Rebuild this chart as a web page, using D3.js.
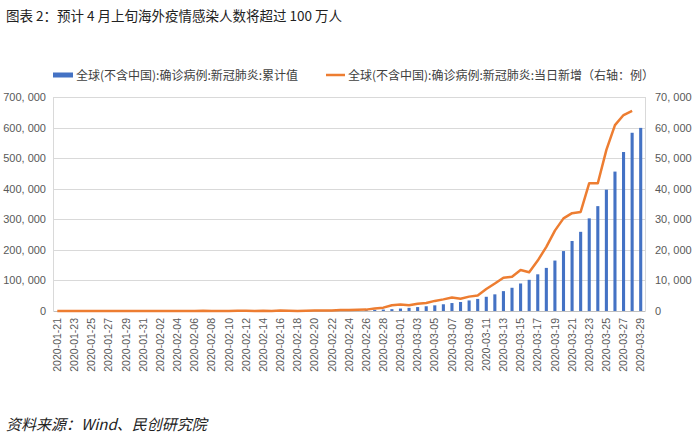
<!DOCTYPE html>
<html>
  <head>
    <meta charset="utf-8">
    <title>海外疫情感染人数</title>
    <script src="https://cdn.jsdelivr.net/npm/d3@7"></script>
    <style>
      body { margin: 0; background: #fff; }
      text { font-family: "Liberation Sans", Arial, "Noto Sans CJK SC", sans-serif; }
      .cjk { font-family: "Noto Sans CJK SC", sans-serif; }
    </style>
  </head>
  <body>

    <svg class="chart" width="700" height="436"></svg>

    <script>

      // categories: 2020-01-21 .. 2020-03-29, one per day
      var dates = d3.utcDay.range(new Date(Date.UTC(2020, 0, 21)), new Date(Date.UTC(2020, 2, 30)))
        .map(d3.utcFormat("%Y-%m-%d"));

      // cumulative confirmed cases (left axis)
      var cumulative = [
        5, 8, 11, 19, 36, 49, 56, 68, 83, 98, 132,
        146, 153, 159, 191, 216, 225, 270, 288, 310, 320,
        395, 441, 447, 505, 526, 683, 794, 804, 924, 1073,
        1200, 1402, 1769, 2069, 2459, 2918, 3664, 4700, 6000,
        8000, 10300, 12800, 15500, 18500, 22000, 26000, 29500, 34500, 39500,
        46500, 54500, 65000, 76000, 90000, 102000, 120000, 141000, 165000, 196000,
        229000, 259000, 303000, 343000, 397000, 456000, 520000, 583000, 599000
      ];

      // daily new cases (right axis), no value yet for 03-29
      var daily = [
        4, 3, 3, 8, 17, 13, 7, 12, 15, 15, 34,
        14, 7, 6, 32, 25, 9, 45, 18, 22, 10,
        75, 46, 6, 58, 21, 157, 111, 10, 120, 149,
        127, 202, 367, 300, 390, 450, 800, 1100, 1900,
        2100, 1900, 2400, 2600, 3300, 3800, 4400, 4000, 4700, 5100,
        7200, 9000, 10900, 11200, 13400, 12700, 16500, 21000, 26300, 30300,
        32000, 32400, 41800, 41800, 52700, 60800, 64100, 65500, null
      ];

      var leftTicks = [0, 100000, 200000, 300000, 400000, 500000, 600000, 700000];
      var rightTicks = [0, 10000, 20000, 30000, 40000, 50000, 60000, 70000];

      var title = "图表 2：预计 4 月上旬海外疫情感染人数将超过 100 万人";
      var barName = "全球(不含中国):确诊病例:新冠肺炎:累计值";
      var lineName = "全球(不含中国):确诊病例:新冠肺炎:当日新增（右轴：例）";
      var source = "资料来源：Wind、民创研究院";

      var blue = "#4472C4", orange = "#ED7D31", grid = "#D9D9D9", axisText = "#595959";
      var plotL = 53, plotR = 645, plotT = 97, plotB = 311;

      var x = d3.scaleBand().domain(dates).range([plotL, plotR]).paddingInner(0.64).paddingOuter(0.32);
      var yL = d3.scaleLinear().domain([0, 700000]).range([plotB, plotT]);
      var yR = d3.scaleLinear().domain([0, 70000]).range([plotB, plotT]);
      var fmt = function(v) { return d3.format(",")(v).replace(/,/g, ", "); };

      var svg = d3.select("svg.chart");

      svg.append("text").attr("class", "cjk")
        .attr("x", 6).attr("y", 21)
        .attr("font-size", 13.5).attr("fill", "#222")
        .text(title);

      // legend
      var lg = svg.append("g").attr("class", "legend");
      lg.append("rect").attr("x", 53).attr("y", 72.5).attr("width", 20).attr("height", 5).attr("fill", blue);
      lg.append("text").attr("class", "cjk").attr("x", 76).attr("y", 79.5)
        .attr("font-size", 12).attr("fill", "#404040").text(barName);
      lg.append("line").attr("x1", 326).attr("x2", 345).attr("y1", 75).attr("y2", 75)
        .attr("stroke", orange).attr("stroke-width", 2.5);
      lg.append("text").attr("class", "cjk").attr("x", 348).attr("y", 79.5)
        .attr("font-size", 12).attr("fill", "#404040").text(lineName);

      // gridlines and plot side borders
      svg.append("g").selectAll("line")
        .data(leftTicks.slice(1))
        .enter().append("line")
          .attr("x1", plotL).attr("x2", plotR)
          .attr("y1", function(d) { return Math.round(yL(d)) + 0.5; })
          .attr("y2", function(d) { return Math.round(yL(d)) + 0.5; })
          .attr("stroke", grid).attr("stroke-width", 1);
      svg.append("g").selectAll("line")
        .data([plotL, plotR])
        .enter().append("line")
          .attr("x1", function(d) { return d + 0.5; }).attr("x2", function(d) { return d + 0.5; })
          .attr("y1", plotT).attr("y2", plotB)
          .attr("stroke", grid).attr("stroke-width", 1);

      // left axis
      var axL = svg.append("g")
        .attr("transform", "translate(" + plotL + ",0)")
        .call(d3.axisLeft(yL).tickValues(leftTicks).tickSize(0).tickPadding(7).tickFormat(fmt));
      axL.select(".domain").remove();
      axL.selectAll("text").attr("font-size", 11).attr("fill", axisText)
        .attr("font-family", "'Liberation Sans', Arial, sans-serif");

      // right axis
      var axR = svg.append("g")
        .attr("transform", "translate(" + plotR + ",0)")
        .call(d3.axisRight(yR).tickValues(rightTicks).tickSize(0).tickPadding(10).tickFormat(fmt));
      axR.select(".domain").remove();
      axR.selectAll("text").attr("font-size", 11).attr("fill", axisText)
        .attr("font-family", "'Liberation Sans', Arial, sans-serif");

      // bottom axis, every other date
      var axB = svg.append("g")
        .attr("transform", "translate(0," + plotB + ")")
        .call(d3.axisBottom(x).tickValues(dates.filter(function(d, i) { return i % 2 === 0; }))
          .tickSize(0).tickPadding(0));
      axB.select(".domain").attr("stroke", "#BFBFBF");
      axB.selectAll("text")
        .attr("font-size", 10.5).attr("fill", axisText)
        .attr("font-family", "'Liberation Sans', Arial, sans-serif")
        .attr("transform", "rotate(-90)")
        .attr("text-anchor", "end")
        .attr("x", -7).attr("y", 0).attr("dy", "0.35em");

      // bars
      svg.append("g").selectAll("rect.bar")
        .data(cumulative)
        .enter().append("rect")
          .attr("class", "bar")
          .attr("x", function(d, i) { return x(dates[i]); })
          .attr("width", x.bandwidth())
          .attr("y", function(d) { return yL(d); })
          .attr("height", function(d) { return plotB - yL(d); })
          .attr("fill", blue);

      // daily line
      var line = d3.line()
        .defined(function(d) { return d !== null; })
        .x(function(d, i) { return x(dates[i]) + x.bandwidth() / 2; })
        .y(function(d) { return yR(d); });
      svg.append("path")
        .datum(daily)
        .attr("d", line)
        .attr("fill", "none")
        .attr("stroke", orange)
        .attr("stroke-width", 2.5)
        .attr("stroke-linejoin", "round");

      svg.append("text").attr("class", "cjk")
        .attr("x", 6).attr("y", 430)
        .attr("font-size", 15).attr("font-style", "italic").attr("fill", "#222")
        .text(source);

    </script>
  </body>
</html>
